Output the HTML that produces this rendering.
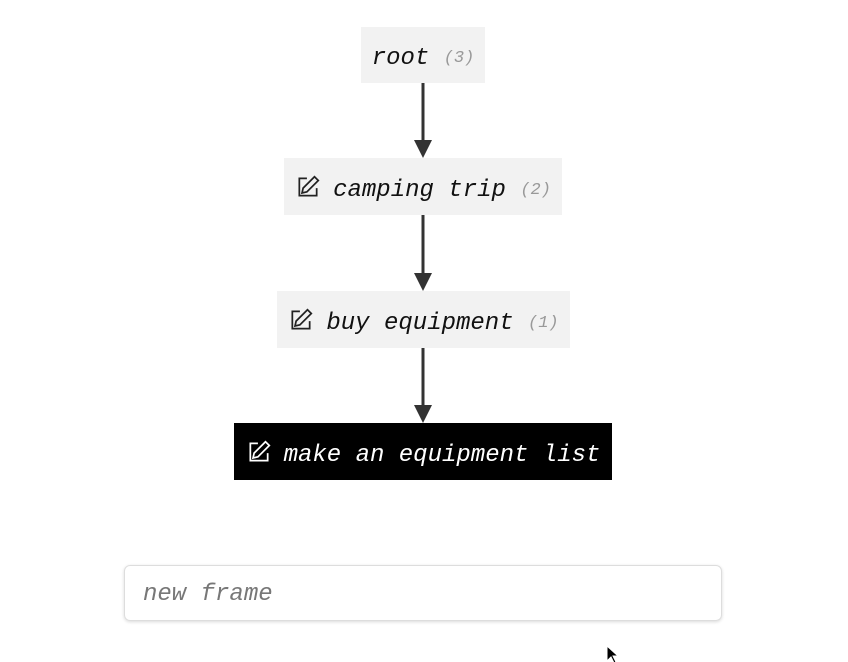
<!DOCTYPE html>
<html><head><meta charset="utf-8"><style>
html,body{margin:0;padding:0;background:#fff;width:848px;height:662px;overflow:hidden;position:relative;font-family:"Liberation Mono",monospace;}
.n{position:absolute;background:#f2f2f2;display:flex;align-items:center;justify-content:center;font-style:italic;font-size:24px;color:#111;white-space:pre;box-sizing:border-box;padding-top:7px;}
.n.dark{background:#000;color:#fff;}
.c{font-size:17px;color:#999;}
svg.ic{width:26px;height:26px;margin-right:12px;margin-top:-6px;}
.in{position:absolute;left:124px;top:565px;border:1px solid #ddd;border-radius:6px;box-shadow:0 1px 3px rgba(0,0,0,.15);font-style:italic;font-size:24px;color:#777;line-height:58px;padding-left:18px;box-sizing:border-box;width:598px;height:56px;}
</style></head><body>
<svg width="848" height="662" style="position:absolute;left:0;top:0">
<g stroke="#333" stroke-width="3"><line x1="423" y1="83" x2="423" y2="142"/><line x1="423" y1="215" x2="423" y2="275"/><line x1="423" y1="348" x2="423" y2="407"/></g>
<g fill="#333"><polygon points="414,140 432,140 423,158"/><polygon points="414,273 432,273 423,291"/><polygon points="414,405 432,405 423,423"/></g>
</svg>
<div class="n" style="left:361px;top:27px;width:124px;height:56px">root <span class="c">(3)</span></div>
<div class="n" style="left:284px;top:158px;width:278px;height:57px"><svg class="ic" viewBox="0 0 24 24" fill="none" stroke="#222" stroke-width="1.6"><path d="M11 4H4v16h16v-7"/><path d="M18 2.5l3.5 3.5L11 16.5 6.5 17.5 7.5 13z"/></svg>camping trip <span class="c">(2)</span></div>
<div class="n" style="left:277px;top:291px;width:293px;height:57px"><svg class="ic" viewBox="0 0 24 24" fill="none" stroke="#222" stroke-width="1.6"><path d="M11 4H4v16h16v-7"/><path d="M18 2.5l3.5 3.5L11 16.5 6.5 17.5 7.5 13z"/></svg>buy equipment <span class="c">(1)</span></div>
<div class="n dark" style="left:234px;top:423px;width:378px;height:57px"><svg class="ic" viewBox="0 0 24 24" fill="none" stroke="#fff" stroke-width="1.6"><path d="M11 4H4v16h16v-7"/><path d="M18 2.5l3.5 3.5L11 16.5 6.5 17.5 7.5 13z"/></svg>make an equipment list</div>
<div class="in">new frame</div>
<svg width="14" height="20" style="position:absolute;left:606px;top:645px"><path d="M1 1v15l4-4 3 6 2-1-3-6h5z" fill="#000" stroke="#fff" stroke-width="1"/></svg>
</body></html>
